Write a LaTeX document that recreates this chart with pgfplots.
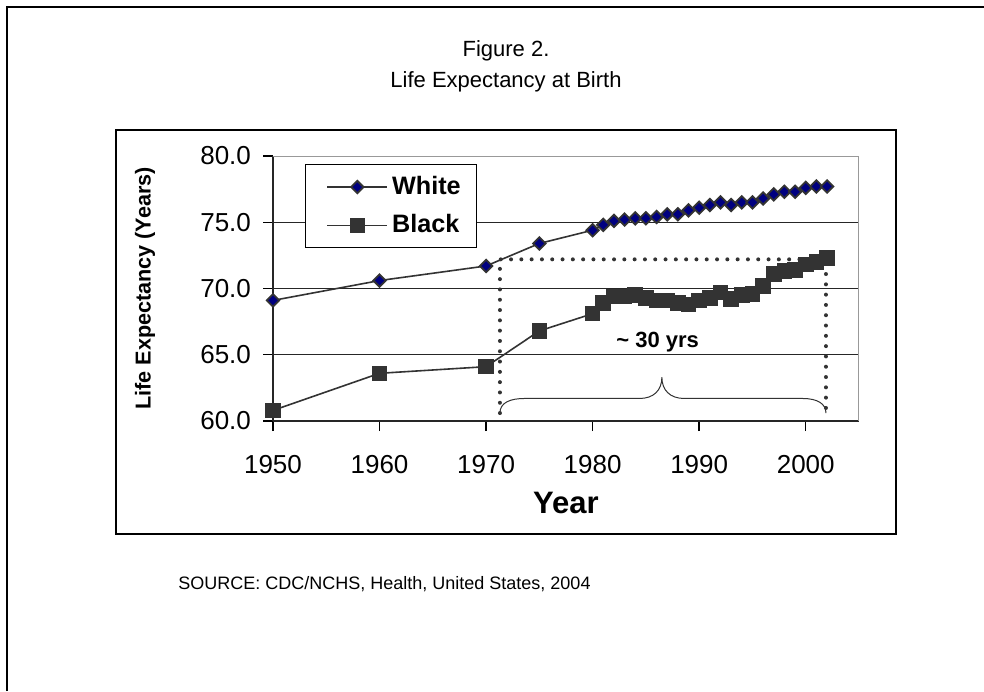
\documentclass[border=0pt]{standalone}
\usepackage{fontspec}
\setmainfont{Liberation Sans}
\usepackage{pgfplots}
\usepackage{pgfplotstable}
\pgfplotsset{compat=1.18}

\definecolor{dk}{HTML}{333333}
\definecolor{navyfill}{HTML}{000080}

% life expectancy at birth, years
\pgfplotstableread{
year white black
1950 69.1 60.8
1960 70.6 63.6
1970 71.7 64.1
1975 73.4 66.8
1980 74.4 68.1
1981 74.8 68.9
1982 75.1 69.4
1983 75.2 69.4
1984 75.3 69.5
1985 75.3 69.3
1986 75.4 69.1
1987 75.6 69.1
1988 75.6 68.9
1989 75.9 68.8
1990 76.1 69.1
1991 76.3 69.3
1992 76.5 69.7
1993 76.3 69.2
1994 76.5 69.5
1995 76.5 69.6
1996 76.8 70.2
1997 77.1 71.1
1998 77.3 71.3
1999 77.3 71.4
2000 77.6 71.8
2001 77.7 72.0
2002 77.7 72.3
}\lifetab

\begin{document}
\begin{tikzpicture}
\path[use as bounding box] (0,0) rectangle (492pt,345.5pt);
% page frame (left and top edges)
\draw[line width=1.2pt] (3.6pt,0) -- (3.6pt,342pt) -- (492pt,342pt);
% chart frame
\draw[line width=0.6pt] (58pt,78.5pt) rectangle (448pt,280.5pt);

\node[anchor=base, font=\fontsize{11}{13}\selectfont] at (253pt,317pt) {Figure 2.};
\node[anchor=base, font=\fontsize{11}{13}\selectfont] at (253pt,301.5pt) {Life Expectancy at Birth};
\node[anchor=base west, inner sep=0pt, font=\fontsize{9}{11}\selectfont] at (89pt,51pt) {SOURCE: CDC/NCHS, Health, United States, 2004};

\begin{axis}[
  at={(136.5pt,135pt)}, anchor=south west,
  scale only axis, width=293pt, height=132.5pt,
  xmin=1950, xmax=2005, ymin=60, ymax=80,
  axis x line*=bottom, axis y line*=left,
  axis line style={-, black!85, line width=1pt},
  xtick={1950,1960,...,2000}, ytick={60,65,...,80},
  tick align=outside, major tick length=5pt,
  tick style={black, line width=0.7pt},
  ymajorgrids, major grid style={black!85, line width=0.5pt},
  /pgf/number format/assume math mode=true,
  ticklabel style={font=\fontsize{13}{15}\selectfont},
  yticklabel style={/pgf/number format/.cd, fixed, fixed zerofill, precision=1, /tikz/.cd, xshift=-2.5pt},
  xticklabel style={/pgf/number format/set thousands separator={}, yshift=-8.5pt},
  xlabel={Year},
  ylabel={Life Expectancy (Years)},
  every axis x label/.style={at={(rel axis cs:0.5,0)}, anchor=base, yshift=-46pt,
    font=\bfseries\fontsize{15.5}{17}\selectfont},
  every axis y label/.style={at={(rel axis cs:0,0.5)}, xshift=-64pt, rotate=90, anchor=center,
    font=\bfseries\fontsize{10.8}{12}\selectfont},
  legend style={at={(rel axis cs:0.0547,0.97)}, anchor=north west, draw=black,
    line width=0.5pt, font=\bfseries\fontsize{12.6}{14}\selectfont,
    inner xsep=6pt, inner ysep=4pt, row sep=4.5pt},
  legend cell align=left,
  legend image code/.code={\path (0pt,0pt); \draw[mark repeat=2,mark phase=2,#1] plot coordinates {(4.5pt,0pt) (19.5pt,0pt) (34.5pt,0pt)};},
]
% gap annotation
\draw[dk, line width=2pt, line cap=round, dash pattern=on 0pt off 5.15pt]
  (axis cs:1971.3,60.6) -- (axis cs:1971.3,72.2) -- (axis cs:2001.9,72.2) -- (axis cs:2001.9,60.6);
\draw[dk, line width=0.5pt]
  (axis cs:1971.3,60.6) .. controls (axis cs:1971.3,61.4) and (axis cs:1972.3,61.7) .. (axis cs:1973.6,61.7)
  -- (axis cs:1984.4,61.7) .. controls (axis cs:1985.7,61.7) and (axis cs:1986.5,62.3) .. (axis cs:1986.5,63.3)
  .. controls (axis cs:1986.5,62.3) and (axis cs:1987.3,61.7) .. (axis cs:1988.6,61.7)
  -- (axis cs:1999.7,61.7) .. controls (axis cs:2001.1,61.7) and (axis cs:2001.9,61.3) .. (axis cs:2001.9,60.6);
\node[font=\bfseries\fontsize{11}{13}\selectfont, anchor=base] at (axis cs:1986.1,65.55) {\textasciitilde{} 30 yrs};
% gray plot-area border
\draw[gray!80, line width=1pt] (rel axis cs:0,1) -- (rel axis cs:1,1) -- (rel axis cs:1,0);

\addplot[dk, line width=0.8pt, mark=square*, mark size=2.2pt,
  mark options={rotate=45, fill=navyfill, draw=dk, line width=0.9pt}]
  table[x=year, y=white] {\lifetab};
\addlegendentry{White}
\addplot[dk, line width=0.8pt, mark=square*, mark size=3.5pt,
  mark options={fill=dk, draw=dk}]
  table[x=year, y=black] {\lifetab};
\addlegendentry{Black}
\end{axis}
\end{tikzpicture}
\end{document}
